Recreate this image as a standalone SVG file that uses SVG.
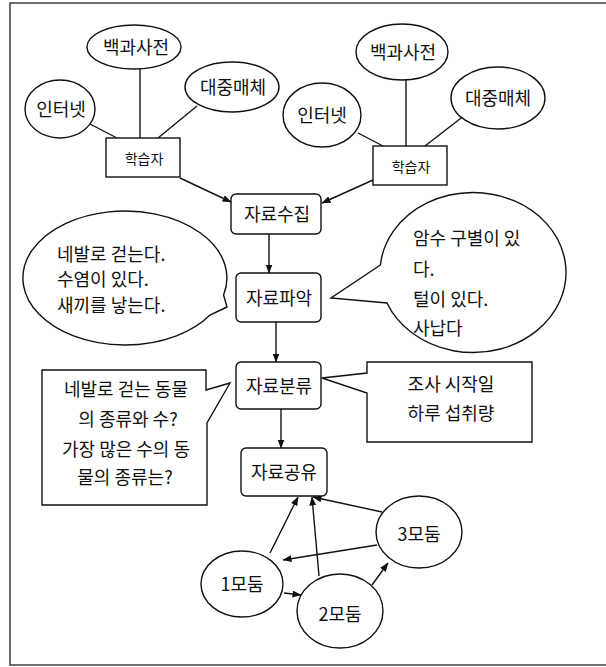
<svg xmlns="http://www.w3.org/2000/svg" width="606" height="667" viewBox="0 0 606 667">
<style>
.s{fill:none;stroke:#111;stroke-width:1.4}
.n{fill:#fff;stroke:#111;stroke-width:1.4}
text{font-family:"Noto Sans CJK KR","Noto Sans",sans-serif;fill:#111}
.l{font-size:18px;text-anchor:middle;dominant-baseline:central}
.sm{font-size:14px;text-anchor:middle;dominant-baseline:central}
.t{font-size:18px}
.c{font-size:18px;text-anchor:middle}
</style>
<defs>
<marker id="ah" markerWidth="9" markerHeight="7" refX="8.5" refY="3.5" orient="auto" markerUnits="userSpaceOnUse">
<path d="M0,0 L9,3.5 L0,7 Z" fill="#111"/>
</marker>
</defs>
<rect x="0" y="0" width="606" height="667" fill="#fff"/>
<rect x="10" y="3" width="600" height="662" fill="none" stroke="#222" stroke-width="1.3"/>

<g id="connectors">
<line class="s" x1="90" y1="124" x2="117" y2="138"/>
<line class="s" x1="140" y1="69" x2="140" y2="138"/>
<line class="s" x1="197" y1="106" x2="158" y2="138"/>
<line class="s" x1="180" y1="178" x2="231" y2="202" marker-end="url(#ah)"/>
<line class="s" x1="358" y1="133" x2="383" y2="146"/>
<line class="s" x1="406" y1="80" x2="406" y2="146"/>
<line class="s" x1="465" y1="115" x2="425" y2="146"/>
<line class="s" x1="373" y1="180" x2="322" y2="203" marker-end="url(#ah)"/>
<line class="s" x1="269" y1="234" x2="269" y2="273" marker-end="url(#ah)"/>
<line class="s" x1="276" y1="322" x2="276" y2="362" marker-end="url(#ah)"/>
<line class="s" x1="281" y1="409" x2="281" y2="448" marker-end="url(#ah)"/>
<line class="s" x1="270" y1="553" x2="298" y2="497" marker-end="url(#ah)"/>
<line class="s" x1="319" y1="576" x2="312" y2="497" marker-end="url(#ah)"/>
<line class="s" x1="382" y1="512" x2="313" y2="497" marker-end="url(#ah)"/>
<line class="s" x1="377" y1="545" x2="283" y2="560" marker-end="url(#ah)"/>
<line class="s" x1="284" y1="593" x2="301" y2="595" marker-end="url(#ah)"/>
<line class="s" x1="372" y1="585" x2="388" y2="563" marker-end="url(#ah)"/>
</g>

<g id="left-baekgwa"><ellipse class="n" cx="134" cy="47" rx="47" ry="22"/><text class="l" x="136" y="46">백과사전</text></g>
<g id="left-internet"><ellipse class="n" cx="60" cy="109" rx="35" ry="29"/><text class="l" x="61" y="108">인터넷</text></g>
<g id="left-media"><ellipse class="n" cx="232" cy="87" rx="47" ry="25"/><text class="l" x="233" y="86">대중매체</text></g>
<g id="left-learner"><rect class="n" x="106" y="138" width="74" height="39"/><text class="sm" x="144" y="158">학습자</text></g>

<g id="right-baekgwa"><ellipse class="n" cx="402" cy="52" rx="46" ry="28"/><text class="l" x="403" y="51">백과사전</text></g>
<g id="right-internet"><ellipse class="n" cx="322" cy="115" rx="39" ry="32"/><text class="l" x="322" y="114">인터넷</text></g>
<g id="right-media"><ellipse class="n" cx="498" cy="98" rx="47" ry="31"/><text class="l" x="498" y="97">대중매체</text></g>
<g id="right-learner"><rect class="n" x="373" y="146" width="74" height="39"/><text class="sm" x="411" y="166">학습자</text></g>

<g id="collect"><rect class="n" x="231" y="194" width="90" height="40" rx="5"/><text class="l" x="277" y="213">자료수집</text></g>
<g id="grasp"><rect class="n" x="236" y="273" width="85" height="49" rx="5"/><text class="l" x="279" y="297">자료파악</text></g>
<g id="classify"><rect class="n" x="236" y="362" width="85" height="47" rx="5"/><text class="l" x="279" y="385">자료분류</text></g>
<g id="share"><rect class="n" x="241" y="448" width="86" height="48" rx="5"/><text class="l" x="284" y="471">자료공유</text></g>

<g id="bubble-left">
<path class="n" d="M223.6,295 L227,307 L210,315 A102,67 0 1 1 223.6,295 Z"/>
<text class="t" x="57" y="261">네발로 걷는다.</text>
<text class="t" x="57" y="286">수염이 있다.</text>
<text class="t" x="57" y="312">새끼를 낳는다.</text>
</g>

<g id="bubble-right">
<path class="n" d="M380.4,265 L331,298 L387,303 A93,80 0 1 0 380.4,265 Z"/>
<text class="t" x="413" y="245">암수 구별이 있</text>
<text class="t" x="413" y="276">다.</text>
<text class="t" x="413" y="306">털이 있다.</text>
<text class="t" x="413" y="335">사납다</text>
</g>

<g id="box-left">
<path class="n" d="M42,370 L206,370 L206,390 L230,383 L207,423 L207,505 L42,505 Z"/>
<text class="c" x="126" y="396">네발로 걷는 동물</text>
<text class="c" x="128" y="426">의 종류와 수?</text>
<text class="c" x="126" y="456">가장 많은 수의 동</text>
<text class="c" x="125" y="484">물의 종류는?</text>
</g>

<g id="box-right">
<path class="n" d="M367,362 L532,362 L532,442 L367,442 L367,393 L322,378 L367,373 Z"/>
<text class="c" x="451" y="391">조사 시작일</text>
<text class="c" x="451" y="420">하루 섭취량</text>
</g>

<g id="group1"><ellipse class="n" cx="242" cy="584" rx="41" ry="33"/><text class="l" x="242" y="583">1모둠</text></g>
<g id="group2"><ellipse class="n" cx="340" cy="611" rx="43" ry="37"/><text class="l" x="340" y="613">2모둠</text></g>
<g id="group3"><ellipse class="n" cx="419" cy="532" rx="43" ry="36"/><text class="l" x="419" y="533">3모둠</text></g>
</svg>
